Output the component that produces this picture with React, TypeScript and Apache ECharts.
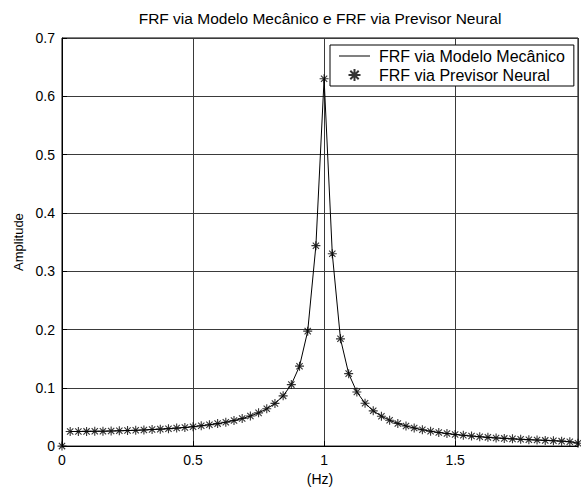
import React, { useEffect, useRef } from "react";
import * as echarts from "echarts";

const chartTitle = "FRF via Modelo Mecânico e FRF via Previsor Neural";
const xAxisName = "(Hz)";
const yAxisName = "Amplitude";
const seriesNames = ["FRF via Modelo Mecânico", "FRF via Previsor Neural"];

const freqHz = [
  0, 0.03125, 0.0625, 0.09375, 0.125, 0.15625, 0.1875, 0.21875, 0.25, 0.28125,
  0.3125, 0.34375, 0.375, 0.40625, 0.4375, 0.46875, 0.5, 0.53125, 0.5625, 0.59375,
  0.625, 0.65625, 0.6875, 0.71875, 0.75, 0.78125, 0.8125, 0.84375, 0.875, 0.90625,
  0.9375, 0.96875, 1, 1.03125, 1.0625, 1.09375, 1.125, 1.15625, 1.1875, 1.21875,
  1.25, 1.28125, 1.3125, 1.34375, 1.375, 1.40625, 1.4375, 1.46875, 1.5, 1.53125,
  1.5625, 1.59375, 1.625, 1.65625, 1.6875, 1.71875, 1.75, 1.78125, 1.8125, 1.84375,
  1.875, 1.90625, 1.9375, 1.96875,
];

const modelAmplitude: (number | null)[] = [
  null, 0.025, 0.0251, 0.0252, 0.0254, 0.0256, 0.0259, 0.0263, 0.0267, 0.0271,
  0.0277, 0.0284, 0.0291, 0.0299, 0.0309, 0.032, 0.0333, 0.0348, 0.0366, 0.0386,
  0.041, 0.0439, 0.0473, 0.0516, 0.057, 0.064, 0.0732, 0.0862, 0.1055, 0.1371,
  0.1972, 0.3438, 0.63, 0.33, 0.184, 0.1243, 0.0928, 0.0735, 0.0605, 0.0513,
  0.0443, 0.0388, 0.0345, 0.031, 0.028, 0.0255, 0.0234, 0.0216, 0.0199, 0.0185,
  0.0172, 0.016, 0.015, 0.014, 0.0132, 0.0124, 0.0117, 0.011, 0.0104, 0.0098,
  0.0092, 0.0085, 0.0075, 0.005,
];

const neuralAmplitude = [
  0, 0.025, 0.0251, 0.0252, 0.0254, 0.0256, 0.0259, 0.0263, 0.0267, 0.0271,
  0.0277, 0.0284, 0.0291, 0.0299, 0.0309, 0.032, 0.0333, 0.0348, 0.0366, 0.0386,
  0.041, 0.0439, 0.0473, 0.0516, 0.057, 0.064, 0.0732, 0.0862, 0.1055, 0.1371,
  0.1972, 0.3438, 0.63, 0.33, 0.184, 0.1243, 0.0928, 0.0735, 0.0605, 0.0513,
  0.0443, 0.0388, 0.0345, 0.031, 0.028, 0.0255, 0.0234, 0.0216, 0.0199, 0.0185,
  0.0172, 0.016, 0.015, 0.014, 0.0132, 0.0124, 0.0117, 0.011, 0.0104, 0.0098,
  0.0092, 0.0085, 0.0075, 0.005,
];

const xTickLabels = [0, 0.5, 1, 1.5];
const yTickLabels = [0, 0.1, 0.2, 0.3, 0.4, 0.5, 0.6, 0.7];

const FONT = "'Liberation Sans', Arial, Helvetica, sans-serif";
const ASTERISK = "path://M0 5L10 5M5 0L5 10M1.5 1.5L8.5 8.5M8.5 1.5L1.5 8.5";
const LINE_ICON = "path://M0 0H31V1H0Z";

export default function App() {
  const ref = useRef<HTMLDivElement>(null);

  useEffect(() => {
    document.body.style.margin = "0";
    if (!ref.current) return;
    const chart = echarts.init(ref.current, undefined, { renderer: "svg" });

    const modelData = freqHz
      .map((f, i) => [f, modelAmplitude[i]])
      .filter((p) => p[1] !== null);
    const neuralData = freqHz.map((f, i) => [f, neuralAmplitude[i]]);

    const xMin = freqHz[0];
    const xMax = freqHz[freqHz.length - 1];

    chart.setOption({
      animation: false,
      backgroundColor: "#fff",
      textStyle: { fontFamily: FONT },
      graphic: [
        {
          type: "text",
          x: 320,
          y: 18,
          style: {
            text: chartTitle,
            textAlign: "center",
            textVerticalAlign: "middle",
            fontFamily: FONT,
            fontSize: 15.5,
            fill: "#000",
          },
        },
      ],
      legend: {
        left: 330,
        top: 45,
        orient: "vertical",
        itemWidth: 31,
        itemHeight: 12,
        itemGap: 3,
        padding: [3, 9, 3, 9],
        borderColor: "#000",
        borderWidth: 1,
        backgroundColor: "#fff",
        textStyle: { fontFamily: FONT, fontSize: 16, color: "#000", padding: [0, 0, 0, 4] },
        data: [
          { name: seriesNames[0], icon: LINE_ICON, itemStyle: { color: "#000", borderWidth: 0 } },
          { name: seriesNames[1] },
        ],
      },
      grid: {
        left: 62,
        top: 38,
        right: 3,
        bottom: 41.5,
        show: true,
        borderColor: "#000",
        borderWidth: 1,
        backgroundColor: "transparent",
      },
      xAxis: {
        type: "value",
        min: xMin,
        max: xMax,
        interval: 0.5,
        name: xAxisName,
        nameLocation: "middle",
        nameGap: 21,
        nameTextStyle: { fontFamily: FONT, fontSize: 14, color: "#000" },
        axisLine: { show: true, lineStyle: { color: "#000", width: 1 } },
        axisTick: { show: true, inside: true, length: 5, lineStyle: { color: "#000" } },
        axisLabel: {
          fontFamily: FONT,
          fontSize: 14,
          color: "#000",
          margin: 7,
          showMaxLabel: false,
          formatter: (v: number) => (xTickLabels.some((t) => Math.abs(t - v) < 1e-9) ? String(v) : ""),
        },
        splitLine: { show: true, lineStyle: { color: "#3a3a3a", width: 1 } },
      },
      yAxis: {
        type: "value",
        min: 0,
        max: 0.7,
        interval: 0.1,
        name: yAxisName,
        nameLocation: "middle",
        nameGap: 31,
        nameTextStyle: { fontFamily: FONT, fontSize: 13, color: "#000" },
        axisLine: { show: true, lineStyle: { color: "#000", width: 1 } },
        axisTick: { show: true, inside: true, length: 5, lineStyle: { color: "#000" } },
        axisLabel: {
          fontFamily: FONT,
          fontSize: 14,
          color: "#000",
          margin: 7,
          formatter: (v: number) => {
            const t = yTickLabels.find((y) => Math.abs(y - v) < 1e-9);
            return t === undefined ? "" : String(t);
          },
        },
        splitLine: { show: true, lineStyle: { color: "#3a3a3a", width: 1 } },
      },
      series: [
        {
          name: seriesNames[0],
          type: "line",
          data: modelData,
          symbol: "none",
          lineStyle: { color: "#000", width: 1 },
          itemStyle: { color: "#000" },
          z: 2,
        },
        {
          name: seriesNames[1],
          type: "scatter",
          data: neuralData,
          symbol: ASTERISK,
          symbolSize: 9,
          clip: false,
          itemStyle: { color: "transparent", borderColor: "#000", borderWidth: 1.1 },
          z: 3,
        },
      ],
    });

    return () => chart.dispose();
  }, []);

  return <div ref={ref} style={{ width: 581, height: 491 }} />;
}
